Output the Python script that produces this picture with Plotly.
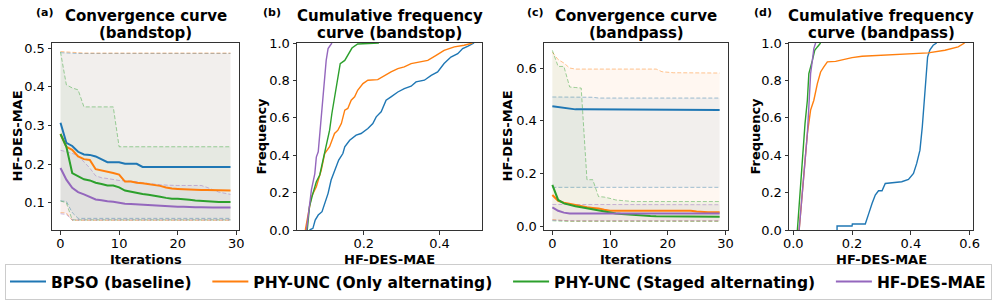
import plotly.graph_objects as go

W, H = 997, 303
FONT = "DejaVu Sans"

iters = list(range(30))
series_names = ["BPSO (baseline)", "PHY-UNC (Only alternating)", "PHY-UNC (Staged alternating)", "HF-DES-MAE"]
colors = ["#1f77b4", "#ff7f0e", "#2ca02c", "#9467bd"]
rgb = [(31, 119, 180), (255, 127, 14), (44, 160, 44), (148, 103, 189)]

# ---------- (a) convergence, bandstop ----------
a_bpso_mean = [0.307, 0.255, 0.247, 0.232, 0.225, 0.224, 0.220, 0.213, 0.205, 0.205, 0.205, 0.201, 0.201, 0.201, 0.193,
               0.193, 0.193, 0.193, 0.193, 0.193, 0.193, 0.193, 0.193, 0.193, 0.193, 0.193, 0.193, 0.193, 0.193, 0.193]
a_bpso_upper = [0.488, 0.487, 0.487, 0.486, 0.486, 0.486, 0.486, 0.486, 0.486, 0.486, 0.486, 0.486, 0.486, 0.486, 0.486,
                0.486, 0.486, 0.486, 0.486, 0.486, 0.486, 0.486, 0.486, 0.486, 0.486, 0.486, 0.486, 0.486, 0.486, 0.486]
a_bpso_lower = [0.105, 0.104, 0.075, 0.060, 0.060, 0.060, 0.060, 0.060, 0.060, 0.060, 0.060, 0.060, 0.060, 0.060, 0.060,
                0.060, 0.060, 0.060, 0.060, 0.060, 0.060, 0.060, 0.060, 0.060, 0.060, 0.060, 0.060, 0.060, 0.060, 0.060]
a_orange_mean = [0.278, 0.245, 0.237, 0.220, 0.213, 0.211, 0.187, 0.184, 0.181, 0.177, 0.173, 0.155, 0.155, 0.152, 0.151,
                 0.149, 0.146, 0.144, 0.140, 0.137, 0.136, 0.135, 0.134, 0.134, 0.133, 0.133, 0.133, 0.133, 0.132, 0.132]
a_orange_upper = [0.491, 0.490, 0.488, 0.487, 0.487, 0.487, 0.487, 0.487, 0.487, 0.487, 0.487, 0.487, 0.487, 0.487, 0.487,
                  0.487, 0.487, 0.487, 0.487, 0.487, 0.487, 0.487, 0.487, 0.487, 0.487, 0.487, 0.487, 0.487, 0.487, 0.487]
a_orange_lower = [0.075, 0.074, 0.055, 0.055, 0.055, 0.055, 0.055, 0.055, 0.055, 0.055, 0.055, 0.055, 0.055, 0.055, 0.055,
                  0.055, 0.055, 0.055, 0.055, 0.055, 0.055, 0.055, 0.055, 0.055, 0.055, 0.055, 0.055, 0.055, 0.055, 0.055]
a_green_mean = [0.278, 0.245, 0.177, 0.168, 0.161, 0.158, 0.152, 0.149, 0.145, 0.145, 0.140, 0.132, 0.129, 0.125, 0.123,
                0.121, 0.119, 0.116, 0.113, 0.111, 0.111, 0.110, 0.108, 0.106, 0.105, 0.103, 0.103, 0.102, 0.102, 0.102]
a_green_upper = [0.490, 0.405, 0.397, 0.392, 0.348, 0.348, 0.348, 0.348, 0.348, 0.348, 0.245, 0.245, 0.245, 0.245, 0.245,
                 0.245, 0.245, 0.245, 0.245, 0.245, 0.245, 0.245, 0.245, 0.245, 0.245, 0.245, 0.245, 0.245, 0.245, 0.245]
a_green_lower = [0.105, 0.100, 0.056, 0.056, 0.056, 0.056, 0.056, 0.056, 0.056, 0.056, 0.056, 0.056, 0.056, 0.056, 0.056,
                 0.056, 0.056, 0.056, 0.056, 0.056, 0.056, 0.056, 0.056, 0.056, 0.056, 0.056, 0.056, 0.056, 0.056, 0.056]
a_purple_mean = [0.190, 0.160, 0.139, 0.128, 0.122, 0.115, 0.109, 0.107, 0.104, 0.103, 0.100, 0.098, 0.097, 0.096, 0.095,
                 0.094, 0.093, 0.092, 0.092, 0.091, 0.090, 0.090, 0.089, 0.089, 0.089, 0.088, 0.088, 0.088, 0.088, 0.088]
a_purple_upper = [0.236, 0.233, 0.228, 0.222, 0.205, 0.190, 0.170, 0.165, 0.163, 0.160, 0.158, 0.157, 0.156, 0.155, 0.152,
                  0.150, 0.148, 0.147, 0.146, 0.145, 0.145, 0.145, 0.145, 0.145, 0.145, 0.140, 0.133, 0.128, 0.125, 0.122]
a_purple_lower = [0.072, 0.070, 0.056, 0.056, 0.056, 0.056, 0.056, 0.056, 0.056, 0.056, 0.056, 0.056, 0.056, 0.056, 0.056,
                  0.056, 0.056, 0.056, 0.056, 0.056, 0.056, 0.056, 0.056, 0.056, 0.056, 0.056, 0.056, 0.056, 0.056, 0.056]

# ---------- (c) convergence, bandpass ----------
c_bpso_mean = [0.455, 0.452, 0.448, 0.444, 0.443, 0.443, 0.443, 0.442, 0.442, 0.442, 0.441, 0.441, 0.441, 0.441, 0.441,
               0.441, 0.441, 0.441, 0.441, 0.441, 0.441, 0.441, 0.441, 0.441, 0.441, 0.441, 0.441, 0.441, 0.441, 0.441]
c_bpso_upper = [0.490, 0.490, 0.490, 0.490, 0.490, 0.490, 0.490, 0.489, 0.486, 0.486, 0.486, 0.486, 0.486, 0.486, 0.486,
                0.486, 0.486, 0.486, 0.486, 0.486, 0.486, 0.486, 0.486, 0.486, 0.486, 0.486, 0.486, 0.486, 0.486, 0.486]
c_bpso_lower = [0.147, 0.147, 0.147, 0.147, 0.147, 0.147, 0.147, 0.147, 0.147, 0.147, 0.147, 0.147, 0.147, 0.147, 0.147,
                0.147, 0.147, 0.147, 0.147, 0.147, 0.147, 0.147, 0.147, 0.147, 0.147, 0.147, 0.147, 0.147, 0.147, 0.147]
c_orange_mean = [0.118, 0.096, 0.089, 0.084, 0.079, 0.074, 0.071, 0.069, 0.067, 0.062, 0.058, 0.058, 0.058, 0.058, 0.058,
                 0.058, 0.058, 0.058, 0.058, 0.058, 0.058, 0.058, 0.058, 0.058, 0.058, 0.055, 0.053, 0.052, 0.052, 0.052]
c_orange_upper = [0.660, 0.632, 0.619, 0.600, 0.596, 0.596, 0.596, 0.596, 0.596, 0.596, 0.596, 0.596, 0.596, 0.596, 0.596,
                  0.596, 0.596, 0.596, 0.596, 0.586, 0.583, 0.582, 0.582, 0.582, 0.581, 0.581, 0.581, 0.581, 0.581, 0.581]
c_orange_lower = [0.025, 0.023, 0.019, 0.019, 0.019, 0.019, 0.019, 0.019, 0.019, 0.019, 0.019, 0.019, 0.019, 0.019, 0.019,
                  0.019, 0.019, 0.019, 0.019, 0.019, 0.019, 0.019, 0.019, 0.019, 0.019, 0.019, 0.019, 0.019, 0.019, 0.019]
c_green_mean = [0.156, 0.099, 0.086, 0.080, 0.075, 0.071, 0.067, 0.064, 0.061, 0.056, 0.051, 0.048, 0.046, 0.044, 0.042,
                0.041, 0.040, 0.038, 0.037, 0.037, 0.036, 0.036, 0.036, 0.035, 0.035, 0.035, 0.035, 0.035, 0.035, 0.035]
c_green_upper = [0.667, 0.606, 0.606, 0.528, 0.526, 0.524, 0.176, 0.176, 0.112, 0.110, 0.105, 0.099, 0.097, 0.094, 0.093,
                 0.093, 0.093, 0.093, 0.093, 0.093, 0.093, 0.093, 0.093, 0.093, 0.093, 0.093, 0.093, 0.093, 0.093, 0.093]
c_green_lower = [0.020, 0.018, 0.018, 0.018, 0.018, 0.018, 0.018, 0.018, 0.018, 0.018, 0.018, 0.018, 0.018, 0.018, 0.018,
                 0.018, 0.018, 0.018, 0.018, 0.018, 0.018, 0.018, 0.018, 0.018, 0.018, 0.018, 0.018, 0.018, 0.018, 0.018]
c_purple_mean = [0.071, 0.058, 0.051, 0.048, 0.048, 0.048, 0.048, 0.048, 0.048, 0.048, 0.048, 0.048, 0.048, 0.048, 0.048,
                 0.048, 0.048, 0.048, 0.048, 0.048, 0.048, 0.048, 0.048, 0.048, 0.048, 0.048, 0.048, 0.048, 0.048, 0.048]
c_purple_upper = [0.082, 0.082, 0.081, 0.081, 0.081, 0.081, 0.081, 0.081, 0.081, 0.081, 0.081, 0.081, 0.081, 0.081, 0.081,
                  0.081, 0.081, 0.081, 0.081, 0.081, 0.081, 0.081, 0.081, 0.081, 0.081, 0.081, 0.081, 0.081, 0.081, 0.081]
c_purple_lower = [0.022, 0.021, 0.020, 0.020, 0.020, 0.020, 0.020, 0.020, 0.020, 0.020, 0.020, 0.020, 0.020, 0.020, 0.020,
                  0.020, 0.020, 0.020, 0.020, 0.020, 0.020, 0.020, 0.020, 0.020, 0.020, 0.020, 0.020, 0.020, 0.020, 0.020]

# ---------- (b) cumulative frequency, bandstop ----------
b_bpso_x = [0.057, 0.066, 0.072, 0.080, 0.090, 0.097, 0.106, 0.114, 0.123, 0.134, 0.145, 0.150, 0.163, 0.180, 0.193, 0.211,
            0.224, 0.233, 0.246, 0.259, 0.272, 0.290, 0.307, 0.325, 0.338, 0.360, 0.378, 0.395, 0.412, 0.430, 0.448, 0.461,
            0.474, 0.491]
b_bpso_y = [0.0, 0.009, 0.053, 0.080, 0.098, 0.142, 0.196, 0.267, 0.311, 0.374, 0.409, 0.445, 0.480, 0.507, 0.516, 0.543,
            0.569, 0.605, 0.632, 0.694, 0.712, 0.738, 0.756, 0.769, 0.792, 0.801, 0.827, 0.845, 0.890, 0.925, 0.943, 0.970,
            0.982, 1.0]
b_orange_x = [0.046, 0.054, 0.062, 0.075, 0.088, 0.097, 0.110, 0.123, 0.132, 0.141, 0.150, 0.158, 0.167, 0.176, 0.184,
              0.198, 0.211, 0.237, 0.255, 0.272, 0.290, 0.307, 0.325, 0.351, 0.369, 0.391, 0.412, 0.439, 0.465, 0.487]
b_orange_y = [0.0, 0.089, 0.178, 0.231, 0.320, 0.409, 0.445, 0.516, 0.534, 0.569, 0.641, 0.650, 0.694, 0.712, 0.747,
              0.783, 0.801, 0.804, 0.827, 0.845, 0.863, 0.872, 0.890, 0.899, 0.907, 0.934, 0.961, 0.979, 0.988, 1.0]
b_green_x = [0.051, 0.057, 0.066, 0.075, 0.084, 0.093, 0.101, 0.110, 0.116, 0.123, 0.130, 0.138, 0.150, 0.158, 0.169,
             0.184, 0.240]
b_green_y = [0.0, 0.125, 0.196, 0.258, 0.294, 0.374, 0.463, 0.534, 0.623, 0.712, 0.801, 0.890, 0.907, 0.934, 0.973,
             0.995, 1.0]
b_purple_x = [0.049, 0.054, 0.062, 0.071, 0.075, 0.080, 0.084, 0.090, 0.095, 0.101, 0.106, 0.113, 0.116]
b_purple_y = [0.0, 0.089, 0.214, 0.302, 0.390, 0.418, 0.516, 0.640, 0.783, 0.907, 0.970, 0.996, 1.0]

# ---------- (d) cumulative frequency, bandpass ----------
d_bpso_x = [0.149, 0.149, 0.200, 0.201, 0.245, 0.250, 0.257, 0.268, 0.279, 0.290, 0.302, 0.313, 0.335, 0.369, 0.392,
            0.409, 0.420, 0.431, 0.439, 0.446, 0.450, 0.457, 0.465, 0.476, 0.488]
d_bpso_y = [0.0, 0.021, 0.021, 0.032, 0.032, 0.053, 0.089, 0.142, 0.187, 0.210, 0.210, 0.249, 0.253, 0.258, 0.270,
            0.302, 0.356, 0.427, 0.552, 0.694, 0.819, 0.925, 0.964, 0.988, 1.0]
d_orange_x = [0.020, 0.029, 0.037, 0.048, 0.059, 0.070, 0.082, 0.093, 0.104, 0.116, 0.144, 0.166, 0.200, 0.234, 0.290,
              0.347, 0.459, 0.516, 0.561, 0.583]
d_orange_y = [0.0, 0.160, 0.302, 0.516, 0.641, 0.694, 0.783, 0.845, 0.872, 0.899, 0.902, 0.911, 0.922, 0.929, 0.934,
              0.940, 0.947, 0.961, 0.979, 1.0]
d_green_x = [0.014, 0.025, 0.033, 0.040, 0.048, 0.053, 0.065, 0.073, 0.082, 0.093]
d_green_y = [0.0, 0.231, 0.445, 0.569, 0.694, 0.836, 0.907, 0.961, 0.979, 1.0]
d_purple_x = [0.020, 0.029, 0.037, 0.048, 0.053, 0.059, 0.065, 0.070, 0.076]
d_purple_y = [0.0, 0.160, 0.338, 0.516, 0.658, 0.836, 0.907, 0.970, 1.0]

# tick values
conv_xticks = [0, 10, 20, 30]
a_yticks = [0.1, 0.2, 0.3, 0.4, 0.5]
c_yticks = [0.0, 0.2, 0.4, 0.6]
freq_yticks = [0.0, 0.2, 0.4, 0.6, 0.8, 1.0]
b_xticks = [0.2, 0.4]
d_xticks = [0.0, 0.2, 0.4, 0.6]

panel_a = [(a_bpso_mean, a_bpso_upper, a_bpso_lower), (a_orange_mean, a_orange_upper, a_orange_lower),
           (a_green_mean, a_green_upper, a_green_lower), (a_purple_mean, a_purple_upper, a_purple_lower)]
panel_c = [(c_bpso_mean, c_bpso_upper, c_bpso_lower), (c_orange_mean, c_orange_upper, c_orange_lower),
           (c_green_mean, c_green_upper, c_green_lower), (c_purple_mean, c_purple_upper, c_purple_lower)]
panel_b = [(b_bpso_x, b_bpso_y), (b_orange_x, b_orange_y), (b_green_x, b_green_y), (b_purple_x, b_purple_y)]
panel_d = [(d_bpso_x, d_bpso_y), (d_orange_x, d_orange_y), (d_green_x, d_green_y), (d_purple_x, d_purple_y)]

fig = go.Figure()


def px_x(p):
    return p / W


def px_y(p):
    return 1 - p / H


def add_conv(panel, xa, ya, legend):
    for k, (mean, up, lo) in enumerate(panel):
        r, g, b = rgb[k]
        fig.add_trace(go.Scatter(x=iters, y=lo, mode="lines", xaxis=xa, yaxis=ya, showlegend=False,
                                 line=dict(color=f"rgba({r},{g},{b},0.45)", width=1, dash="4px,2px"),
                                 hoverinfo="skip"))
        fig.add_trace(go.Scatter(x=iters, y=up, mode="lines", xaxis=xa, yaxis=ya, showlegend=False,
                                 fill="tonexty", fillcolor=f"rgba({r},{g},{b},0.06)",
                                 line=dict(color=f"rgba({r},{g},{b},0.45)", width=1, dash="4px,2px"),
                                 hoverinfo="skip"))
    for k, (mean, up, lo) in enumerate(panel):
        pad = "\u00a0" * (2 if k < 3 else 0)
        fig.add_trace(go.Scatter(x=iters, y=mean, mode="lines", xaxis=xa, yaxis=ya,
                                 name=series_names[k] + pad, legendgroup=series_names[k], showlegend=legend,
                                 line=dict(color=colors[k], width=2)))


def add_cdf(panel, xa, ya):
    for k, (xs, ys) in enumerate(panel):
        fig.add_trace(go.Scatter(x=xs, y=ys, mode="lines", xaxis=xa, yaxis=ya, showlegend=False,
                                 legendgroup=series_names[k], line=dict(color=colors[k], width=1.4)))


add_conv(panel_a, "x", "y", True)
add_cdf(panel_b, "x2", "y2")
add_conv(panel_c, "x3", "y3", False)
add_cdf(panel_d, "x4", "y4")

tickfont = dict(family=FONT, size=13, color="black")
ax_common = dict(showline=True, mirror=True, linecolor="#333333", linewidth=1, ticks="outside", ticklen=3.5,
                 tickcolor="#333333", showgrid=False, zeroline=False, tickfont=tickfont, automargin=False)
xax_extra = dict(ticklabelstandoff=-2)

domains = [(52, 239), (297, 482), (544, 728), (789, 973)]
ydom = [px_y(230), px_y(43)]

fig.update_layout(
    width=W, height=H, margin=dict(l=0, r=0, t=0, b=0, autoexpand=False),
    plot_bgcolor="white", paper_bgcolor="white",
    font=dict(family=FONT, color="black"),
    xaxis=dict(domain=[px_x(domains[0][0]), px_x(domains[0][1])], range=[-1.45, 30.45], tickvals=conv_xticks,
               anchor="y", **ax_common, **xax_extra),
    yaxis=dict(domain=ydom, range=[0.030, 0.513], tickvals=a_yticks, tickformat=".1f", anchor="x", **ax_common),
    xaxis2=dict(domain=[px_x(domains[1][0]), px_x(domains[1][1])], range=[0.024, 0.512], tickvals=b_xticks,
                tickformat=".1f", anchor="y2", **ax_common, **xax_extra),
    yaxis2=dict(domain=ydom, range=[0, 1], tickvals=freq_yticks, tickformat=".1f", anchor="x2", **ax_common),
    xaxis3=dict(domain=[px_x(domains[2][0]), px_x(domains[2][1])], range=[-1.45, 30.45], tickvals=conv_xticks,
                anchor="y3", **ax_common, **xax_extra),
    yaxis3=dict(domain=ydom, range=[-0.015, 0.695], tickvals=c_yticks, tickformat=".1f", anchor="x3", **ax_common),
    xaxis4=dict(domain=[px_x(domains[3][0]), px_x(domains[3][1])], range=[-0.0145, 0.6115], tickvals=d_xticks,
                tickformat=".1f", anchor="y4", **ax_common, **xax_extra),
    yaxis4=dict(domain=ydom, range=[0, 1], tickvals=freq_yticks, tickformat=".1f", anchor="x4", **ax_common),
    legend=dict(orientation="h", x=0.5, xanchor="center", y=px_y(282), yanchor="middle",
                bordercolor="#cccccc", borderwidth=1, bgcolor="white", itemwidth=36,
                font=dict(family=FONT, size=15.5, color="black", weight="bold")),
)

panel_labels = ["(a)", "(b)", "(c)", "(d)"]
label_x = [44, 272, 535, 763]
title_lines = [("Convergence curve", "(bandstop)"), ("Cumulative frequency", "curve (bandstop)"),
               ("Convergence curve", "(bandpass)"), ("Cumulative frequency", "curve (bandpass)")]
ylabels = ["HF-DES-MAE", "Frequency", "HF-DES-MAE", "Frequency"]
ylabel_x = [17, 261, 507, 755]
xlabels = ["Iterations", "HF-DES-MAE", "Iterations", "HF-DES-MAE"]

ann = []
for i in range(4):
    cx = (domains[i][0] + domains[i][1]) / 2
    ann.append(dict(text=f"<b>{panel_labels[i]}</b>", x=px_x(label_x[i]), y=px_y(13), xref="paper", yref="paper",
                    showarrow=False, xanchor="center", yanchor="middle", font=dict(family=FONT, size=11)))
    ann.append(dict(text=f"<b>{title_lines[i][0]}</b>", x=px_x(cx), y=px_y(16), xref="paper", yref="paper",
                    showarrow=False, xanchor="center", yanchor="middle", font=dict(family=FONT, size=15)))
    ann.append(dict(text=f"<b>{title_lines[i][1]}</b>", x=px_x(cx), y=px_y(33), xref="paper", yref="paper",
                    showarrow=False, xanchor="center", yanchor="middle", font=dict(family=FONT, size=15)))
    ann.append(dict(text=f"<b>{ylabels[i]}</b>", x=px_x(ylabel_x[i]), y=px_y(136.5), xref="paper", yref="paper",
                    showarrow=False, xanchor="center", yanchor="middle", textangle=-90,
                    font=dict(family=FONT, size=13)))
    ann.append(dict(text=f"<b>{xlabels[i]}</b>", x=px_x(cx), y=px_y(259), xref="paper", yref="paper",
                    showarrow=False, xanchor="center", yanchor="middle", font=dict(family=FONT, size=13)))
fig.update_layout(annotations=ann)

fig.write_html("out.html", config={"displayModeBar": False},
               post_script="document.body.style.margin='0';document.body.style.overflow='hidden';")
